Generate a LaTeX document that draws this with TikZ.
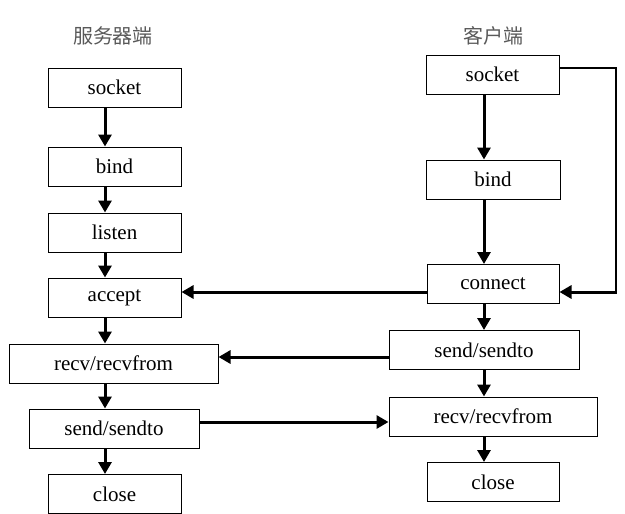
\documentclass[tikz,border=0pt]{standalone}
\usepackage{fontspec}
\setmainfont{Liberation Serif}
\newfontfamily\cjk{Noto Sans CJK SC}
\usetikzlibrary{arrows.meta}
\tikzset{
  box/.style={draw,line width=1pt,minimum height=39pt,inner sep=0pt,font=\fontsize{21}{24}\selectfont},
  flow/.style={line width=3pt,-{Triangle[length=12pt,width=13pt]}},
  title/.style={font=\cjk\fontsize{20}{24}\selectfont,text=black!65}
}
\begin{document}
\begin{tikzpicture}[x=1pt,y=-1pt]
  \useasboundingbox (0,0) rectangle (625,514);
  \node[title] (stitle) at (113,36) {服务器端};
  \node[title] (ctitle) at (493,36) {客户端};
  % server side
  \foreach \n/\x/\y/\w/\lab in {ssock/114.5/87.5/133/socket, sbind/114.5/166.5/133/bind,
      slisten/114.5/232.5/133/listen, saccept/114.5/297.5/133/accept,
      srecv/113.5/363.5/209/recv\slash recvfrom, ssend/114/428.5/170/send\slash sendto,
      sclose/114.5/494/133/close} {
    \node[box,minimum width=\w pt] (\n) at (\x,\y) {\lab};
  }
  % client side
  \foreach \n/\x/\y/\w/\lab in {csock/492.5/74.5/133/socket, cbind/493/179.5/134/bind,
      cconn/493/284/132/connect, csend/484/350/190/send\slash sendto,
      crecv/493/416.5/208/recv\slash recvfrom, cclose/493/482/132/close} {
    \node[box,minimum width=\w pt] (\n) at (\x,\y) {\lab};
  }
  \coordinate (sx) at (105,0);
  \coordinate (cx) at (484,0);
  \foreach \a/\b in {ssock/sbind, sbind/slisten, slisten/saccept, saccept/srecv, srecv/ssend, ssend/sclose}
    \draw[flow] (\a.south -| sx) -- (\b.north -| sx);
  \foreach \a/\b in {csock/cbind, cbind/cconn, cconn/csend, csend/crecv, crecv/cclose}
    \draw[flow] (\a.south -| cx) -- (\b.north -| cx);
  % between the two sides
  \draw[flow] (cconn.west |- 0,292) -- (saccept.east |- 0,292);
  \draw[flow] (csend.west |- 0,357) -- (srecv.east |- 0,357);
  \draw[flow] (ssend.east |- 0,422) -- (crecv.west |- 0,422);
  \coordinate (rtop) at (616,68);
  \coordinate (rbot) at (616,292);
  \draw[line width=1.4pt] (csock.east |- rtop) -- (rtop) -- (rbot);
  \draw[flow] ([xshift=0.7pt]rbot) -- (cconn.east |- rbot);
\end{tikzpicture}
\end{document}
